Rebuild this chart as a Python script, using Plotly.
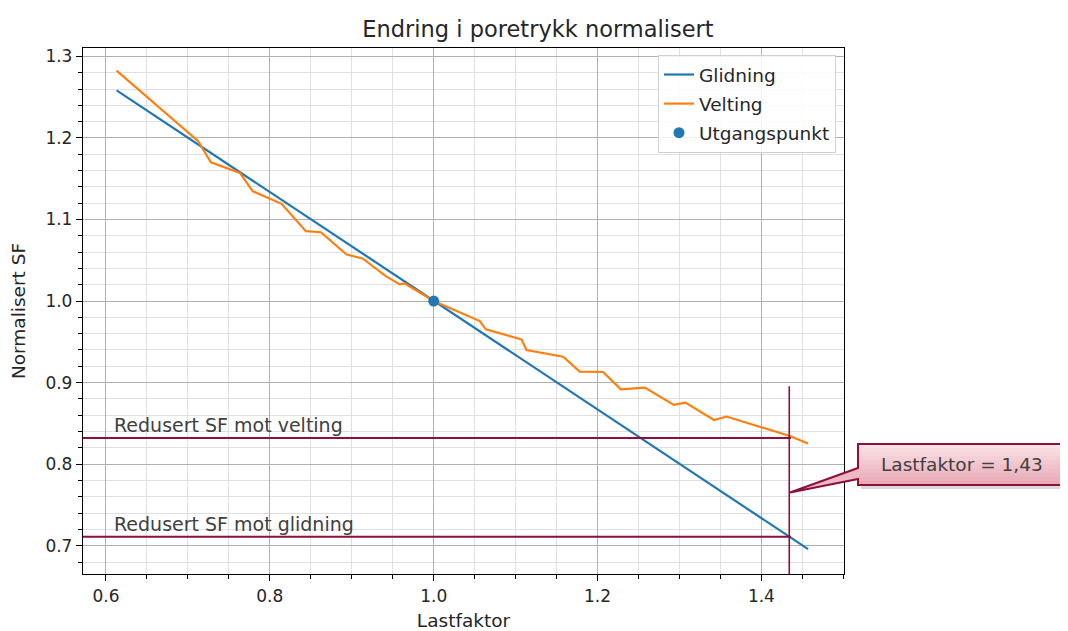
import plotly.graph_objects as go

# ---------------- data ----------------
glid_x = [0.613, 1.0, 1.457]
glid_y = [1.2584, 1.0, 0.6958]

velt_x = [0.613, 0.7126, 0.7281, 0.7635, 0.779, 0.8144, 0.844, 0.8623, 0.8937, 0.9132,
          0.9416, 0.9587, 0.9648, 1.0, 1.0563, 1.0636, 1.1072, 1.1133, 1.158, 1.1783,
          1.2068, 1.2284, 1.2577, 1.2931, 1.3073, 1.3422, 1.3573, 1.4346, 1.4569]
velt_y = [1.2825, 1.1959, 1.1702, 1.1572, 1.1347, 1.1192, 1.0857, 1.0844, 1.0571, 1.0522,
          1.0306, 1.0204, 1.0216, 1.0, 0.9754, 0.9653, 0.953, 0.940, 0.9318, 0.9135,
          0.913, 0.8918, 0.8939, 0.8726, 0.8755, 0.8542, 0.8584, 0.8346, 0.8253]

start_x = [1.0]
start_y = [1.0]

lastfaktor = 1.434
sf_velting = 0.832
sf_glidning = 0.711
vline_top = 0.8955

title = "Endring i poretrykk normalisert"
x_title = "Lastfaktor"
y_title = "Normalisert SF"
callout_text = "Lastfaktor = 1,43"
x_ticks = [0.6, 0.8, 1.0, 1.2, 1.4]
x_ticklabels = ["0.6", "0.8", "1.0", "1.2", "1.4"]
y_ticks = [0.7, 0.8, 0.9, 1.0, 1.1, 1.2, 1.3]
y_ticklabels = ["0.7", "0.8", "0.9", "1.0", "1.1", "1.2", "1.3"]

# ---------------- layout geometry (page pixels; page body has an 8px margin) ----------------
OFFX, OFFY = 8, 8
W, H = 1060, 623
L, R, T, B = 83 - OFFX, 844 - OFFX, 48 - OFFY, 574 - OFFY
XR = [0.572, 1.5008]
YR = [0.6653, 1.3103]


def px(xp):
    return (xp - OFFX - L) / (R - L)


def py(yp):
    return (B - (yp - OFFY)) / (B - T)


RED = "#8c0f3c"
FONT = "DejaVu Sans"
TXT = "#262626"

fig = go.Figure()
fig.add_trace(go.Scatter(x=glid_x, y=glid_y, mode="lines", name="Glidning",
                         line=dict(color="#1f77b4", width=2.2), legendgroup="a"))
fig.add_trace(go.Scatter(x=velt_x, y=velt_y, mode="lines", name="Velting",
                         line=dict(color="#ff7f0e", width=2.2), legendgroup="b"))
fig.add_trace(go.Scatter(x=start_x, y=start_y, mode="markers", name="Utgangspunkt",
                         marker=dict(color="#1f77b4", size=11), legendgroup="c"))

shapes = []
# red overlay lines
shapes.append(dict(type="line", xref="x", yref="y", x0=XR[0], x1=lastfaktor + 0.002,
                   y0=sf_velting, y1=sf_velting, line=dict(color=RED, width=2)))
shapes.append(dict(type="line", xref="x", yref="y", x0=XR[0], x1=lastfaktor + 0.002,
                   y0=sf_glidning, y1=sf_glidning, line=dict(color=RED, width=2)))
shapes.append(dict(type="line", xref="x", yref="y", x0=lastfaktor, x1=lastfaktor,
                   y0=vline_top, y1=YR[0], line=dict(color=RED, width=1.6)))

# callout (box + pointer), page pixel coordinates
bx0, bx1, by0, by1 = 858, 1066, 444, 485
shapes.append(dict(type="rect", xref="paper", yref="paper",
                   x0=px(bx0 + 3), x1=px(bx1 + 3), y0=py(by1 + 4), y1=py(by0 + 4),
                   fillcolor="rgba(0,0,0,0.15)", line=dict(width=0), layer="above"))
top_c = (250, 226, 230)
bot_c = (233, 170, 182)
n = 10
for i in range(n):
    t = i / (n - 1)
    c = tuple(int(top_c[k] + (bot_c[k] - top_c[k]) * t) for k in range(3))
    y_a = by0 + (by1 - by0) * i / n
    y_b = by0 + (by1 - by0) * (i + 1) / n
    shapes.append(dict(type="rect", xref="paper", yref="paper",
                       x0=px(bx0), x1=px(bx1), y0=py(y_b + 0.5), y1=py(y_a),
                       fillcolor="rgb(%d,%d,%d)" % c, line=dict(width=0), layer="above"))
tipx, tipy = 790, 492.5
path_ptr = "M %f,%f L %f,%f L %f,%f Z" % (px(bx0 + 1), py(468), px(tipx), py(tipy), px(bx0 + 1), py(479))
shapes.append(dict(type="path", xref="paper", yref="paper", path=path_ptr,
                   fillcolor="rgb(238,185,195)", line=dict(width=0), layer="above"))
outline = ("M %f,%f L %f,%f L %f,%f L %f,%f L %f,%f L %f,%f L %f,%f Z" % (
    px(bx0), py(by0), px(bx1), py(by0), px(bx1), py(by1), px(bx0), py(by1),
    px(bx0), py(479), px(tipx), py(tipy), px(bx0), py(468)))
shapes.append(dict(type="path", xref="paper", yref="paper", path=outline,
                   fillcolor="rgba(0,0,0,0)", line=dict(color=RED, width=2), layer="above"))

annotations = [
    dict(text="Redusert SF mot velting", xref="x", yref="y", x=0.607, y=sf_velting,
         xanchor="left", yanchor="bottom", yshift=0, showarrow=False,
         font=dict(family=FONT, size=19, color="#404040")),
    dict(text="Redusert SF mot glidning", xref="x", yref="y", x=0.607, y=sf_glidning,
         xanchor="left", yanchor="bottom", yshift=0, showarrow=False,
         font=dict(family=FONT, size=19, color="#404040")),
    dict(text=callout_text, xref="paper", yref="paper", x=px((bx0 + bx1) / 2),
         y=py((by0 + by1) / 2), xanchor="center", yanchor="middle", showarrow=False,
         font=dict(family=FONT, size=18.5, color="#404040")),
]

axis_common = dict(showline=True, linecolor="black", linewidth=1.3, mirror=True,
                   ticks="outside", ticklen=6, tickwidth=1.2, tickcolor="black",
                   showgrid=True, gridcolor="#b0b0b0", gridwidth=1, zeroline=False,
                   automargin=False,
                   tickfont=dict(family=FONT, size=17, color=TXT))

fig.update_layout(
    width=W, height=H,
    margin=dict(l=L, r=W - R, t=T, b=H - B),
    paper_bgcolor="white", plot_bgcolor="white",
    font=dict(family=FONT, color=TXT),
    title=dict(text=title, x=px((83 + 844) / 2), xanchor="center",
               y=1 - (29 - OFFY) / H, yanchor="middle",
               font=dict(family=FONT, size=22.5, color=TXT)),
    xaxis=dict(range=XR, tickvals=x_ticks, ticktext=x_ticklabels,
               title=dict(text=x_title, standoff=10, font=dict(family=FONT, size=18.5, color=TXT)),
               minor=dict(dtick=0.05, tick0=0.6, showgrid=True, gridcolor="#e0e0e0", gridwidth=1,
                          ticks="outside", ticklen=3.5, tickcolor="black"),
               **axis_common),
    yaxis=dict(range=YR, tickvals=y_ticks, ticktext=y_ticklabels,
               title=dict(text=y_title, standoff=14, font=dict(family=FONT, size=18.5, color=TXT)),
               minor=dict(dtick=0.02, tick0=0.7, showgrid=True, gridcolor="#e0e0e0", gridwidth=1,
                          ticks="outside", ticklen=3.5, tickcolor="black"),
               **axis_common),
    legend=dict(x=px(836), xanchor="right", y=py(55), yanchor="top",
                bgcolor="rgba(255,255,255,0.85)", bordercolor="#d0d0d0", borderwidth=1,
                font=dict(family=FONT, size=18.5, color=TXT), tracegroupgap=2),
    shapes=shapes,
    annotations=annotations,
    showlegend=True,
)

fig.write_html("out.html")
